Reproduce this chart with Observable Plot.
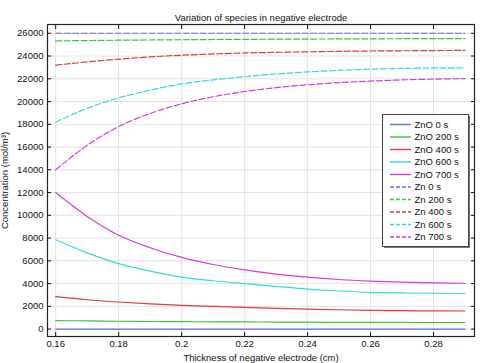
<!DOCTYPE html>
<html>
<head>
<meta charset="utf-8">
<script src="https://cdn.jsdelivr.net/npm/d3@7"></script>
<script src="https://cdn.jsdelivr.net/npm/@observablehq/plot@0.6"></script>
<style>
  html, body { margin: 0; padding: 0; background: #fff; }
  #chart { position: relative; width: 481px; height: 363px; }
</style>
</head>
<body>
<div id="chart"></div>
<script>
// ---- data ----
const thickness = [0.16, 0.17, 0.18, 0.19, 0.20, 0.21, 0.22, 0.23, 0.24, 0.25, 0.26, 0.27, 0.28, 0.29];

const znO0   = [0, 0, 0, 0, 0, 0, 0, 0, 0, 0, 0, 0, 0, 0];
const znO200 = [750, 720, 690, 670, 650, 640, 630, 615, 605, 595, 590, 585, 580, 580];
const znO400 = [2850, 2580, 2380, 2220, 2080, 1990, 1910, 1830, 1760, 1700, 1650, 1620, 1600, 1590];
const znO600 = [7850, 6700, 5750, 5100, 4570, 4250, 3990, 3750, 3520, 3350, 3230, 3180, 3150, 3130];
const znO700 = [12000, 9900, 8250, 7150, 6300, 5680, 5200, 4830, 4560, 4360, 4220, 4120, 4060, 4030];

const zn0   = [26000, 26000, 26000, 26000, 26000, 26000, 26000, 26000, 26000, 26000, 26000, 26000, 26000, 26000];
const zn200 = [25330, 25360, 25390, 25410, 25430, 25450, 25465, 25480, 25490, 25500, 25510, 25520, 25525, 25530];
const zn400 = [23200, 23480, 23720, 23920, 24070, 24180, 24270, 24320, 24370, 24410, 24440, 24460, 24480, 24490];
const zn600 = [18200, 19400, 20320, 21000, 21550, 21900, 22180, 22420, 22600, 22740, 22850, 22910, 22950, 22970];
const zn700 = [14000, 16150, 17800, 18950, 19800, 20420, 20880, 21220, 21470, 21660, 21800, 21900, 21970, 22020];

const seriesNames = ["ZnO 0 s", "ZnO 200 s", "ZnO 400 s", "ZnO 600 s", "ZnO 700 s",
                     "Zn 0 s", "Zn 200 s", "Zn 400 s", "Zn 600 s", "Zn 700 s"];
const seriesValues = [znO0, znO200, znO400, znO600, znO700, zn0, zn200, zn400, zn600, zn700];
const seriesColors = ["#5b72ee", "#3cc43c", "#e03a3a", "#2fdcdc", "#d43cd4",
                      "#5b72ee", "#3cc43c", "#e03a3a", "#2fdcdc", "#d43cd4"];
const seriesDashed = [false, false, false, false, false, true, true, true, true, true];

const xTicks = [0.16, 0.18, 0.20, 0.22, 0.24, 0.26, 0.28];
const xTickLabels = ["0.16", "0.18", "0.2", "0.22", "0.24", "0.26", "0.28"];
const yTicks = [0, 2000, 4000, 6000, 8000, 10000, 12000, 14000, 16000, 18000, 20000, 22000, 24000, 26000];

const titleText = "Variation of species in negative electrode";
const xLabel = "Thickness of negative electrode (cm)";
const yLabel = "Concentration (mol/m³)";

// ---- build table ----
const rows = [];
seriesNames.forEach((name, i) => {
  thickness.forEach((t, j) => rows.push({series: name, x: t, y: seriesValues[i][j], idx: i}));
});

const font = "Liberation Sans, Arial, sans-serif";
const fs = 9.5;

const lineMarks = seriesNames.map((name, i) =>
  Plot.line(rows.filter(r => r.idx === i), {
    x: "x", y: "y", stroke: seriesColors[i], strokeWidth: 1.2,
    strokeDasharray: seriesDashed[i] ? "6,2.5" : null, curve: "monotone-x"
  })
);

const chart = Plot.plot({
  width: 481,
  height: 363,
  marginLeft: 47,
  marginRight: 7,
  marginTop: 24,
  marginBottom: 27,
  style: {fontFamily: font, fontSize: fs + "px", color: "#111", background: "#fff"},
  x: {domain: [0.1574, 0.2930]},
  y: {domain: [-650, 26770]},
  marks: [
    Plot.gridX(xTicks, {stroke: "#e2e2e2", strokeOpacity: 1}),
    Plot.gridY(yTicks, {stroke: "#e2e2e2", strokeOpacity: 1}),
    ...lineMarks,
    Plot.frame({stroke: "#222", strokeWidth: 1.2}),
    Plot.axisX(xTicks, {anchor: "bottom", tickSize: -4, tickPadding: 8,
      tickFormat: (d, i) => xTickLabels[i], label: xLabel, labelAnchor: "center", labelArrow: "none",
      fontSize: fs}),
    Plot.axisX(xTicks, {anchor: "top", tickSize: -4, text: null, label: null}),
    Plot.axisY(yTicks, {anchor: "left", tickSize: -4, tickPadding: 8, tickFormat: d => String(d),
      label: yLabel, labelAnchor: "center", labelArrow: "none", labelOffset: 46, fontSize: fs}),
    Plot.axisY(yTicks, {anchor: "right", tickSize: -4, text: null, label: null}),
    Plot.text([titleText], {frameAnchor: "top", dy: -10, fontSize: fs, fill: "#111"})
  ]
});

document.getElementById("chart").appendChild(chart);

// ---- legend ----
const svg = d3.select(chart);
const lg = svg.append("g").attr("font-family", font).attr("font-size", fs).attr("text-anchor", "start");
const bx = 382.5, by = 114.5, bw = 86, bh = 132;
lg.append("rect").attr("x", bx + 1.5).attr("y", by + 1.5).attr("width", bw).attr("height", bh)
  .attr("fill", "#777");
lg.append("rect").attr("x", bx).attr("y", by).attr("width", bw).attr("height", bh)
  .attr("fill", "#fff").attr("stroke", "#444").attr("stroke-width", 1);
seriesNames.forEach((name, i) => {
  const yy = 124.5 + i * 12.5;
  lg.append("line").attr("x1", 390).attr("x2", 411).attr("y1", yy).attr("y2", yy)
    .attr("stroke", seriesColors[i]).attr("stroke-width", 1.4)
    .attr("stroke-dasharray", seriesDashed[i] ? "4,2" : null);
  lg.append("text").attr("x", 414.5).attr("y", yy).attr("dy", "0.35em")
    .attr("text-anchor", "start").attr("fill", "#111").text(name);
});
</script>
</body>
</html>
